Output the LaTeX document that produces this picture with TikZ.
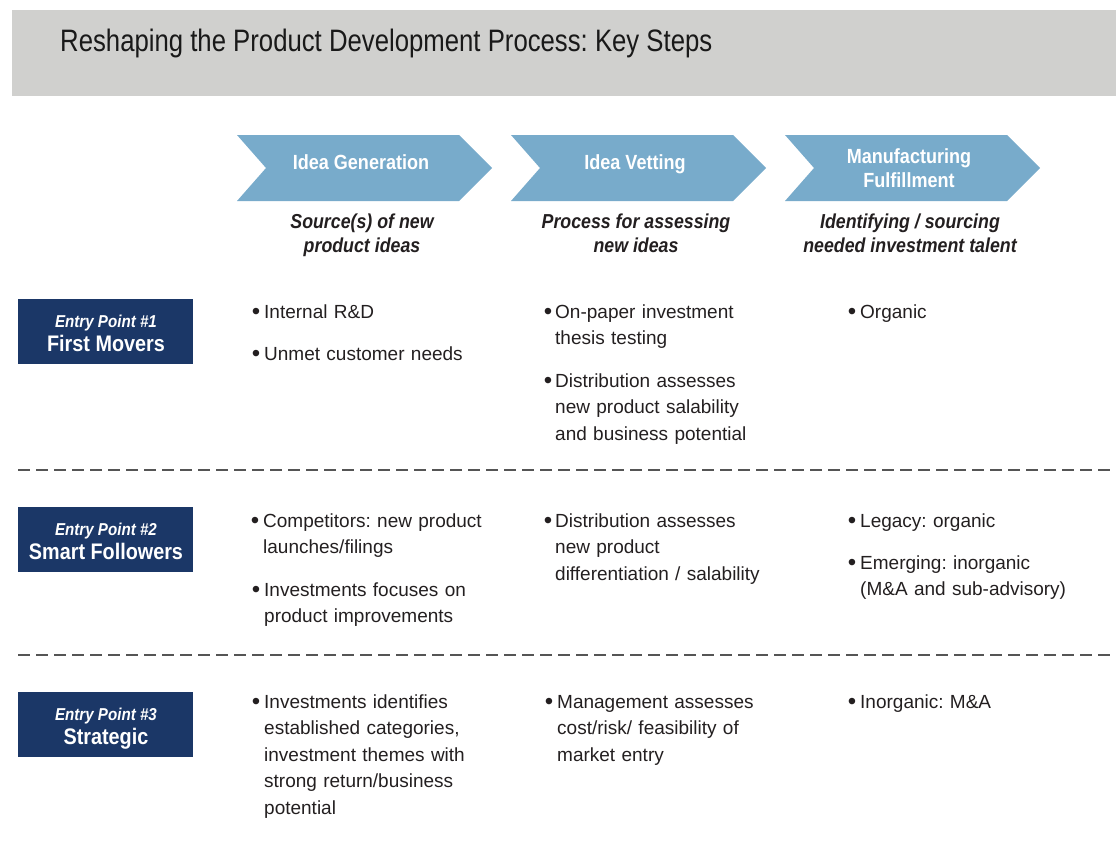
\documentclass[tikz,border=0pt]{standalone}
\usepackage{fontspec}
\setmainfont{Liberation Sans}
\newfontfamily\titlefont[FakeStretch=0.83]{Liberation Sans}
\newfontfamily\condfont[FakeStretch=0.88]{Liberation Sans}
\newfontfamily\bodyfont{Liberation Sans}
\definecolor{band}{HTML}{D0D0CE}
\definecolor{chev}{HTML}{78ABCB}
\definecolor{navy}{HTML}{1B3767}
\definecolor{txt}{HTML}{231F20}
\definecolor{sep}{HTML}{555555}
\frenchspacing
\tikzset{
  chevshape/.style={fill=chev, draw=none},
  chevtext/.style={font=\condfont\bfseries\fontsize{20.5}{24}\selectfont, text=white, anchor=base, inner sep=0, align=center},
  subtext/.style={font=\condfont\bfseries\itshape\fontsize{20.2}{24}\selectfont, text=txt, anchor=base, inner sep=0, align=center},
  entrybox/.style={fill=navy, draw=none, minimum width=175, minimum height=65, anchor=north west, inner sep=0},
  entrysmall/.style={font=\condfont\bfseries\itshape\fontsize{17.2}{20}\selectfont, text=white, anchor=base, inner sep=0},
  entrybig/.style={font=\condfont\bfseries\fontsize{22.5}{26}\selectfont, text=white, anchor=base, inner sep=0},
  body/.style={font=\bodyfont\frenchspacing\fontsize{19}{26.5}\selectfont, text=txt, anchor=base west, inner sep=0, text width=260, align=left},
  bul/.style={font=\bodyfont\fontsize{24}{26.5}\selectfont, text=txt, anchor=base, inner sep=0, yshift=-1.5pt},
  sepline/.style={draw=sep, line width=1.3, dash pattern=on 12 off 6}
}
\begin{document}
\begin{tikzpicture}[x=1pt, y=-1pt]
\useasboundingbox (0,0) rectangle (1116,846);
% title band
\fill[band] (12,10) rectangle (1116,96);
\node[anchor=base west, inner sep=0, font=\titlefont\fontsize{31}{31}\selectfont, text=black!90] (title) at (60,51) {Reshaping the Product Development Process: Key Steps};
% chevrons
\fill[chevshape] (237,135) -- (459,135) -- (492,168) -- (459,201) -- (237,201) -- (266,168) -- cycle;
\fill[chevshape] (511,135) -- (733,135) -- (766,168) -- (733,201) -- (511,201) -- (540,168) -- cycle;
\fill[chevshape] (785,135) -- (1007,135) -- (1040,168) -- (1007,201) -- (785,201) -- (814,168) -- cycle;
\node[chevtext] (c1) at (361,169) {Idea Generation};
\node[chevtext] (c2) at (635,169) {Idea Vetting};
\node[chevtext] (c3a) at (909,163) {Manufacturing};
\node[chevtext] (c3b) at (909,187) {Fulfillment};
% subtitles
\node[subtext] (s1a) at (362,228) {Source(s) of new};
\node[subtext] (s1b) at (362,252) {product ideas};
\node[subtext] (s2a) at (636,228) {Process for assessing};
\node[subtext] (s2b) at (636,252) {new ideas};
\node[subtext] (s3a) at (910,228) {Identifying / sourcing};
\node[subtext] (s3b) at (910,252) {needed investment talent};
% entry boxes
\node[entrybox] (e1) at (18,299) {};
\node[entrysmall] (e1a) at (106,327) {Entry Point \#1};
\node[entrybig] (e1b) at (106,351) {First Movers};
\node[entrybox] (e2) at (18,507) {};
\node[entrysmall] (e2a) at (106,535) {Entry Point \#2};
\node[entrybig] (e2b) at (106,559) {Smart Followers};
\node[entrybox] (e3) at (18,692) {};
\node[entrysmall] (e3a) at (106,720) {Entry Point \#3};
\node[entrybig] (e3b) at (106,744) {Strategic};
% separators
\draw[sepline] (18,470) -- (1116,470);
\draw[sepline] (18,655) -- (1116,655);
% row 1
\node[bul] (b11) at (256,318) {•};
\node[body] (t11) at (264,318) {Internal R\&D};
\node[bul] (b12) at (256,360) {•};
\node[body] (t12) at (264,360) {Unmet customer needs};
\node[bul] (b13) at (548,318) {•};
\node[body] (t13) at (555,318) {On-paper investment\\thesis testing};
\node[bul] (b14) at (548,387) {•};
\node[body] (t14) at (555,387) {Distribution assesses\\new product salability\\and business potential};
\node[bul] (b15) at (852,318) {•};
\node[body] (t15) at (860,318) {Organic};
% row 2
\node[bul] (b21) at (255,527) {•};
\node[body] (t21) at (263,527) {Competitors: new product\\launches/filings};
\node[bul] (b22) at (256,596) {•};
\node[body] (t22) at (264,596) {Investments focuses on\\product improvements};
\node[bul] (b23) at (548,527) {•};
\node[body] (t23) at (555,527) {Distribution assesses\\new product\\differentiation / salability};
\node[bul] (b24) at (852,527) {•};
\node[body] (t24) at (860,527) {Legacy: organic};
\node[bul] (b25) at (852,569) {•};
\node[body] (t25) at (860,569) {Emerging: inorganic\\(M\&A and sub-advisory)};
% row 3
\node[bul] (b31) at (256,708) {•};
\node[body] (t31) at (264,708) {Investments identifies\\established categories,\\investment themes with\\strong return/business\\potential};
\node[bul] (b32) at (549,708) {•};
\node[body] (t32) at (557,708) {Management assesses\\cost/risk/ feasibility of\\market entry};
\node[bul] (b33) at (852,708) {•};
\node[body] (t33) at (860,708) {Inorganic: M\&A};
\end{tikzpicture}
\end{document}
